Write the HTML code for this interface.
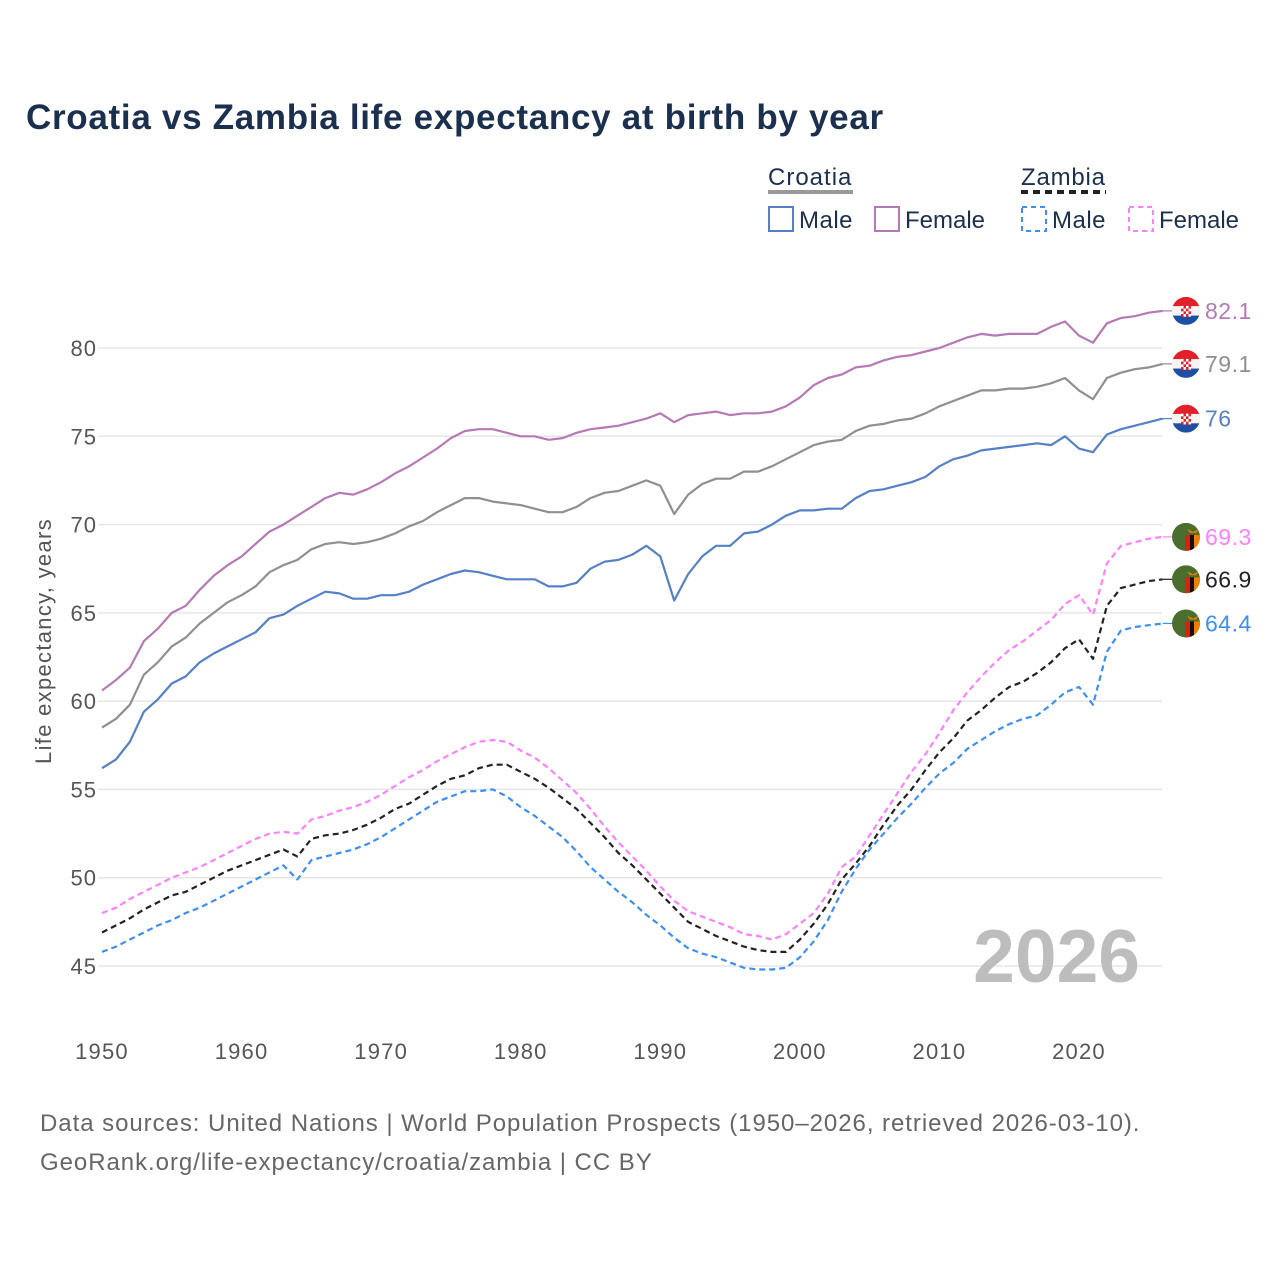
<!DOCTYPE html>
<html><head><meta charset="utf-8">
<style>
body{margin:0;background:#fff;font-family:"Liberation Sans",sans-serif;}
svg text{font-family:"Liberation Sans",sans-serif;}
</style></head>
<body>
<svg id="chart" width="1280" height="1280" viewBox="0 0 1280 1280" xmlns="http://www.w3.org/2000/svg">
<rect width="1280" height="1280" fill="#fff"/>
<text x="26" y="129" font-size="35" font-weight="bold" fill="#1b2f4f" letter-spacing="0.7">Croatia vs Zambia life expectancy at birth by year</text>
<g>
  <text x="768" y="185" font-size="24" fill="#1b2f4f" letter-spacing="1">Croatia</text>
  <line x1="768" y1="192" x2="853" y2="192" stroke="#999" stroke-width="4"/>
  <text x="1021" y="185" font-size="24" fill="#1b2f4f" letter-spacing="0.8">Zambia</text>
  <line x1="1021" y1="192" x2="1106" y2="192" stroke="#222" stroke-width="4" stroke-dasharray="7,5"/>
  <g><rect x="769" y="207" width="24" height="24" fill="none" stroke="#5580c8" stroke-width="2"/><text x="799" y="228" font-size="24" fill="#1b2f4f" letter-spacing="0.5">Male</text></g>
  <g><rect x="875" y="207" width="24" height="24" fill="none" stroke="#b57ab5" stroke-width="2"/><text x="905" y="228" font-size="24" fill="#1b2f4f">Female</text></g>
  <g><rect x="1022" y="207" width="24" height="24" fill="none" stroke="#3d8ef5" stroke-width="2" stroke-dasharray="5,4"/><text x="1052" y="228" font-size="24" fill="#1b2f4f" letter-spacing="0.5">Male</text></g>
  <g><rect x="1129" y="207" width="24" height="24" fill="none" stroke="#ff80ff" stroke-width="2" stroke-dasharray="5,4"/><text x="1159" y="228" font-size="24" fill="#1b2f4f">Female</text></g>
</g>
<g id="grid"></g>
<g id="xaxis"></g>
<text x="1140" y="982" font-size="75" font-weight="bold" fill="#bdbdbd" text-anchor="end">2026</text>
<g id="series"></g>
<g id="endlabels"></g>
<text transform="translate(51,641) rotate(-90)" font-size="22" fill="#555" letter-spacing="1.3" text-anchor="middle">Life expectancy, years</text>
<text x="40" y="1131" font-size="24" fill="#666" letter-spacing="0.95">Data sources: United Nations | World Population Prospects (1950–2026, retrieved 2026-03-10).</text>
<text x="40" y="1170" font-size="24" fill="#666" letter-spacing="0.95">GeoRank.org/life-expectancy/croatia/zambia | CC BY</text>
</svg>
<script>
const startYear = 1950;
const yTicks = [45,50,55,60,65,70,75,80];
const xTicks = [1950,1960,1970,1980,1990,2000,2010,2020];
const croatiaFemale = [60.6,61.2,61.9,63.4,64.1,65.0,65.4,66.3,67.1,67.7,68.2,68.9,69.6,70.0,70.5,71.0,71.5,71.8,71.7,72.0,72.4,72.9,73.3,73.8,74.3,74.9,75.3,75.4,75.4,75.2,75.0,75.0,74.8,74.9,75.2,75.4,75.5,75.6,75.8,76.0,76.3,75.8,76.2,76.3,76.4,76.2,76.3,76.3,76.4,76.7,77.2,77.9,78.3,78.5,78.9,79.0,79.3,79.5,79.6,79.8,80.0,80.3,80.6,80.8,80.7,80.8,80.8,80.8,81.2,81.5,80.7,80.3,81.4,81.7,81.8,82.0,82.1];
const croatiaTotal = [58.5,59.0,59.8,61.5,62.2,63.1,63.6,64.4,65.0,65.6,66.0,66.5,67.3,67.7,68.0,68.6,68.9,69.0,68.9,69.0,69.2,69.5,69.9,70.2,70.7,71.1,71.5,71.5,71.3,71.2,71.1,70.9,70.7,70.7,71.0,71.5,71.8,71.9,72.2,72.5,72.2,70.6,71.7,72.3,72.6,72.6,73.0,73.0,73.3,73.7,74.1,74.5,74.7,74.8,75.3,75.6,75.7,75.9,76.0,76.3,76.7,77.0,77.3,77.6,77.6,77.7,77.7,77.8,78.0,78.3,77.6,77.1,78.3,78.6,78.8,78.9,79.1];
const croatiaMale = [56.2,56.7,57.7,59.4,60.1,61.0,61.4,62.2,62.7,63.1,63.5,63.9,64.7,64.9,65.4,65.8,66.2,66.1,65.8,65.8,66.0,66.0,66.2,66.6,66.9,67.2,67.4,67.3,67.1,66.9,66.9,66.9,66.5,66.5,66.7,67.5,67.9,68.0,68.3,68.8,68.2,65.7,67.2,68.2,68.8,68.8,69.5,69.6,70.0,70.5,70.8,70.8,70.9,70.9,71.5,71.9,72.0,72.2,72.4,72.7,73.3,73.7,73.9,74.2,74.3,74.4,74.5,74.6,74.5,75.0,74.3,74.1,75.1,75.4,75.6,75.8,76.0];
const zambiaFemale = [48.0,48.3,48.8,49.2,49.6,50.0,50.3,50.6,51.0,51.4,51.8,52.2,52.5,52.6,52.5,53.3,53.5,53.8,54.0,54.3,54.7,55.2,55.7,56.1,56.6,57.0,57.4,57.7,57.8,57.7,57.2,56.8,56.2,55.5,54.8,53.9,52.9,52.0,51.2,50.4,49.5,48.7,48.1,47.8,47.5,47.2,46.8,46.7,46.5,46.8,47.4,48.0,49.1,50.6,51.2,52.4,53.6,54.8,56.0,57.0,58.2,59.5,60.5,61.4,62.2,62.9,63.4,64.0,64.6,65.5,66.0,64.9,67.8,68.8,69.0,69.2,69.3];
const zambiaTotal = [46.9,47.3,47.7,48.2,48.6,49.0,49.2,49.6,50.0,50.4,50.7,51.0,51.3,51.6,51.2,52.2,52.4,52.5,52.7,53.0,53.4,53.9,54.2,54.7,55.2,55.6,55.8,56.2,56.4,56.4,56.0,55.6,55.1,54.5,53.9,53.1,52.3,51.4,50.7,49.9,49.1,48.3,47.5,47.1,46.7,46.4,46.1,45.9,45.8,45.8,46.5,47.4,48.5,49.9,50.8,51.8,53.0,54.1,55.0,56.1,57.1,57.9,58.9,59.5,60.2,60.8,61.1,61.6,62.2,63.0,63.5,62.4,65.4,66.4,66.6,66.8,66.9];
const zambiaMale = [45.8,46.1,46.5,46.9,47.3,47.6,48.0,48.3,48.7,49.1,49.5,49.9,50.3,50.7,49.9,51.0,51.2,51.4,51.6,51.9,52.3,52.8,53.3,53.8,54.3,54.6,54.9,54.9,55.0,54.6,54.0,53.5,52.9,52.3,51.5,50.6,49.9,49.2,48.6,47.9,47.3,46.6,46.0,45.7,45.5,45.2,44.9,44.8,44.8,44.9,45.5,46.4,47.6,49.2,50.5,51.6,52.5,53.4,54.2,55.1,55.9,56.5,57.3,57.8,58.3,58.7,59.0,59.2,59.8,60.5,60.8,59.8,62.8,64.0,64.2,64.3,64.4];
const endLabels = ["82.1","79.1","76","69.3","66.9","64.4"];

const NS = "http://www.w3.org/2000/svg";
const xS = yr => 102 + (yr - 1950) * (1079 - 102) / 70;
const yS = v => 966 - (v - 45) * (966 - 348) / 35;
function mk(tag, attrs, parent){const e=document.createElementNS(NS,tag);for(const k in attrs)e.setAttribute(k,attrs[k]);parent.appendChild(e);return e;}

const grid = document.getElementById('grid');
yTicks.forEach(t=>{
  const l = mk('line',{x1:98,x2:1162,y1:yS(t),y2:yS(t),stroke:'#e6e6e6','stroke-width':1.5},grid);
  
  
  const tx = mk('text',{x:97,y:yS(t)+8,'font-size':22,fill:'#555','text-anchor':'end','letter-spacing':1},grid);
  tx.textContent = t;
  
  
});
const xa = document.getElementById('xaxis');
xTicks.forEach(t=>{
  const tx = mk('text',{x:xS(t),y:1059,'font-size':22,fill:'#555','text-anchor':'middle','letter-spacing':1.2},xa);
  tx.textContent = t;
  
  
});

const series = [
  {d:croatiaFemale,c:'#b57ab5',dash:null,name:'croatia-female-line',flag:'hr'},
  {d:croatiaTotal,c:'#8f8f8f',dash:null,name:'croatia-total-line',flag:'hr'},
  {d:croatiaMale,c:'#5580c8',dash:null,name:'croatia-male-line',flag:'hr'},
  {d:zambiaFemale,c:'#ff80ff',dash:'6,4',name:'zambia-female-line',flag:'zm'},
  {d:zambiaTotal,c:'#222222',dash:'6,4',name:'zambia-total-line',flag:'zm'},
  {d:zambiaMale,c:'#3d8ef5',dash:'6,4',name:'zambia-male-line',flag:'zm'}
];
const sg = document.getElementById('series');
const eg = document.getElementById('endlabels');
series.forEach((s,i)=>{
  const pts = s.d.map((v,j)=>xS(startYear+j).toFixed(1)+','+yS(v).toFixed(1)).join(' ');
  const a = {points:pts,fill:'none',stroke:s.c,'stroke-width':2.2,'stroke-linejoin':'round'};
  if(s.dash) a['stroke-dasharray']=s.dash;
  const p = mk('polyline',a,sg);
  
  
  const last = s.d[s.d.length-1];
  const ly = yS(last), lx = xS(startYear+s.d.length-1);
  const conn = mk('line',{x1:lx,x2:1175,y1:ly,y2:ly,stroke:s.c,'stroke-width':1.2},eg);
  
  
  const g = mk('g',{},eg);
  
  
  const cx=1186, cy=ly, r=14;
  const cid='clip'+i;
  const cp = mk('clipPath',{id:cid},g); mk('circle',{cx:cx,cy:cy,r:r},cp);
  const inner = mk('g',{'clip-path':'url(#'+cid+')'},g);
  if(s.flag==='hr'){
    mk('rect',{x:cx-r,y:cy-r,width:2*r,height:2*r/3,fill:'#e2202a'},inner);
    mk('rect',{x:cx-r,y:cy-r+2*r/3,width:2*r,height:2*r/3,fill:'#f4f4f4'},inner);
    mk('rect',{x:cx-r,y:cy-r+4*r/3,width:2*r,height:2*r/3,fill:'#1e4fa3'},inner);
    mk('rect',{x:cx-5,y:cy-7,width:10,height:13,rx:2,fill:'#e2202a'},inner);
    for(let a2=0;a2<4;a2++)for(let b=0;b<4;b++) if((a2+b)%2===0) mk('rect',{x:cx-5+a2*2.5,y:cy-5+b*2.7,width:2.5,height:2.7,fill:'#fff'},inner);
  } else {
    mk('rect',{x:cx-r,y:cy-r,width:2*r,height:2*r,fill:'#4a6e2e'},inner);
    mk('rect',{x:cx-1,y:cy-2,width:5,height:16,fill:'#de2010'},inner);
    mk('rect',{x:cx+4,y:cy-2,width:4,height:16,fill:'#111'},inner);
    mk('rect',{x:cx+8,y:cy-2,width:6,height:16,fill:'#ef7d00'},inner);
    mk('path',{d:`M${cx+1} ${cy-8} l6 3 l6 -3 l-3 4 h-6 z`,fill:'#ef7d00'},inner);
  }
  const t = mk('text',{x:1205,y:ly+8,'font-size':23,fill:s.c,'letter-spacing':0.5},eg);
  t.textContent = endLabels[i];
  
  
});
</script>
</body></html>
